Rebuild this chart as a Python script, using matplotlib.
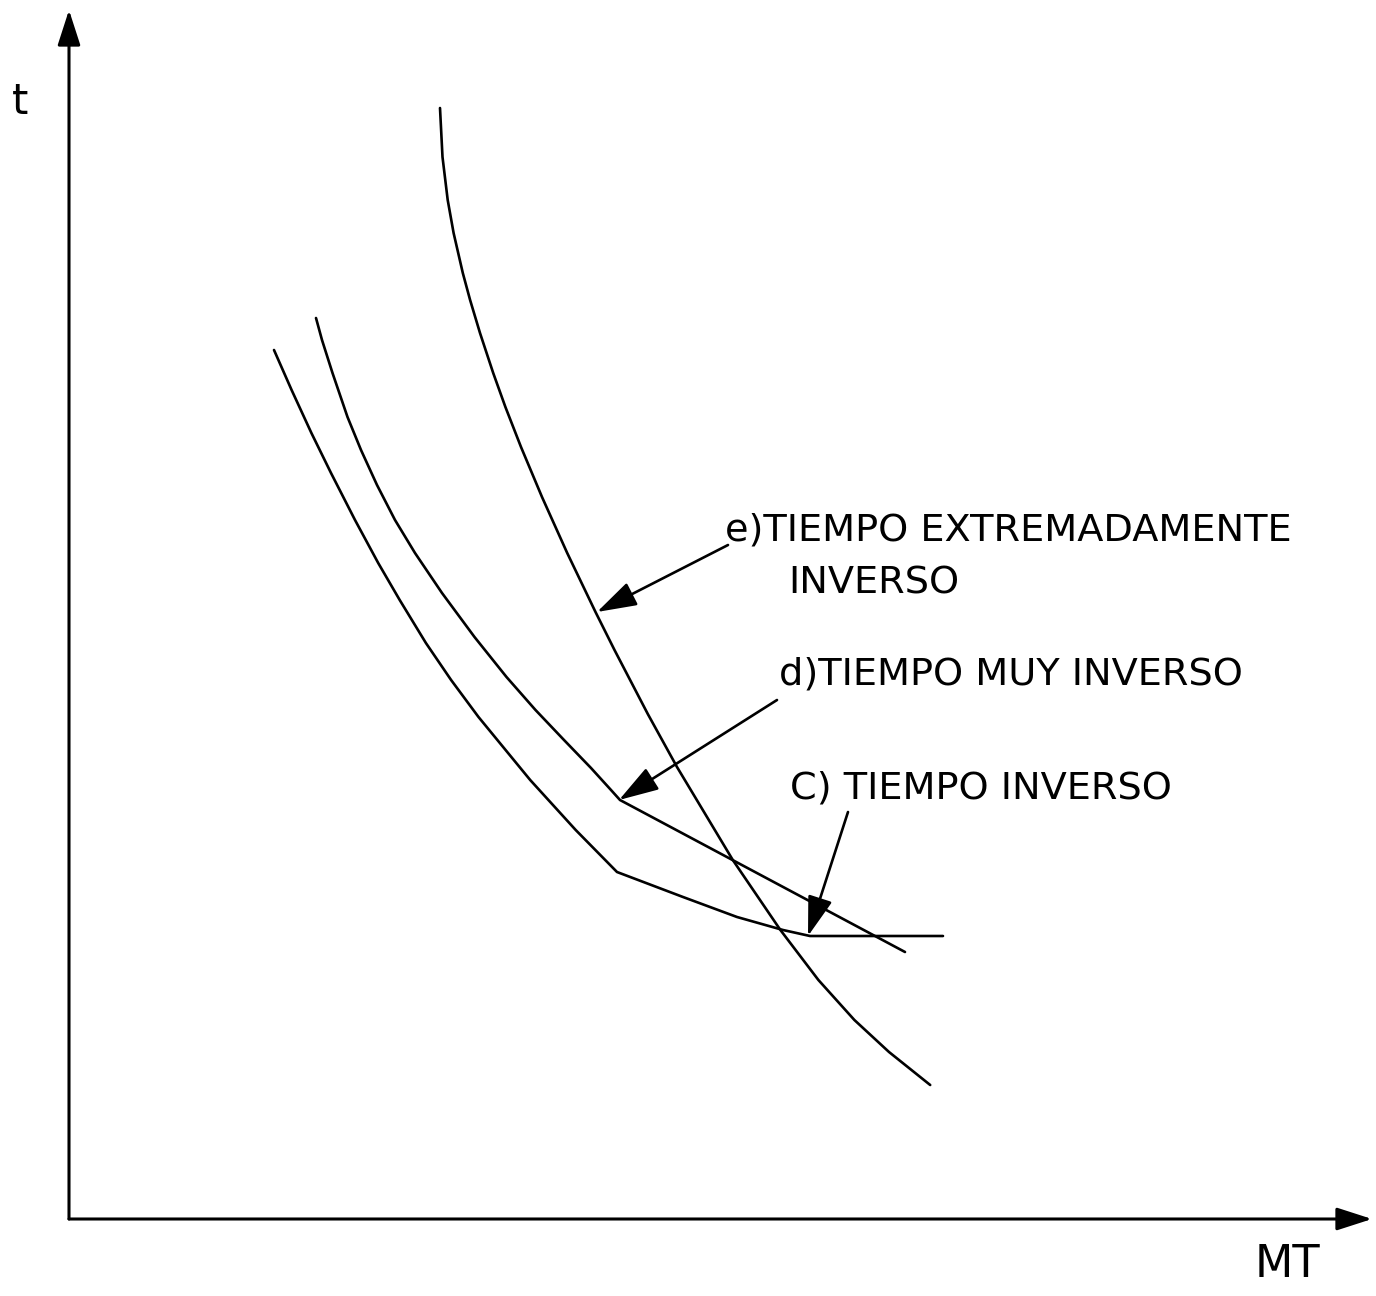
import matplotlib.pyplot as plt

# curve points (MT, t) in arbitrary units
# e) extremely inverse
mt_ext = [37.1, 37.35, 37.87, 38.46, 39.38, 40.11, 41.1, 42.42, 43.64, 45.2, 47.3, 49.82, 52.65,
          54.55, 57.88, 60.8, 66.38, 71.14, 74.94, 78.54, 82.0, 86.12]
t_ext = [111.1, 106.2, 101.9, 98.6, 94.6, 91.9, 88.6, 84.6, 81.2, 77.2, 72.2, 66.6, 60.7,
         56.9, 50.5, 45.2, 35.9, 28.9, 23.9, 19.9, 16.7, 13.4]

# d) very inverse
mt_muy = [24.7, 25.3, 26.35, 27.85, 29.2, 30.8, 32.6, 34.6, 37.3, 40.55, 43.75, 46.65, 49.5,
          52.2, 54.2, 55.1, 83.6]
t_muy = [90.1, 87.9, 84.6, 80.2, 76.9, 73.4, 69.9, 66.6, 62.6, 58.2, 54.2, 50.9, 47.9,
         45.1, 42.9, 41.9, 26.7]

# c) inverse
mt_inv = [20.5, 22.26, 24.24, 26.2, 28.6, 30.92, 33.07, 35.69, 38.21, 40.95, 46.12, 50.67, 54.8,
          61.4, 66.8, 71.4, 74.1, 87.4]
t_inv = [86.9, 82.9, 78.6, 74.6, 69.9, 65.6, 61.9, 57.6, 53.9, 50.2, 43.9, 38.9, 34.7,
         32.2, 30.2, 28.9, 28.3, 28.3]

# labels: (text, text position, arrow tail, arrow tip)
labels = [
    ("e)TIEMPO EXTREMADAMENTE", (65.6, 70.6), (65.9, 67.4), (52.8, 60.7)),
    ("d)TIEMPO MUY INVERSO", (71.0, 56.3), (70.8, 51.9), (55.0, 41.9)),
    ("C) TIEMPO INVERSO", (72.1, 44.8), (77.9, 40.7), (73.9, 28.3)),
]

plt.rcParams['font.family'] = ['DejaVu Sans']
fig = plt.figure(figsize=(13.76, 12.96), dpi=100)
ax = fig.add_axes([0, 0, 1, 1])
ax.set_xlim(-6.9, 130.7)
ax.set_ylim(-7.7, 121.9)
ax.axis('off')

lw = 1.9
for mt, t in [(mt_ext, t_ext), (mt_muy, t_muy), (mt_inv, t_inv)]:
    ax.plot(mt, t, color='black', lw=lw, solid_joinstyle='round', solid_capstyle='round')

# axes with arrow heads
axprops = dict(arrowstyle='-|>,head_length=1.55,head_width=0.5', color='black', lw=2.2,
               shrinkA=0, shrinkB=0, mutation_scale=14)
ax.annotate('', xy=(0, 120.9), xytext=(0, 0), arrowprops=axprops)
ax.annotate('', xy=(130.3, 0), xytext=(0, 0), arrowprops=axprops)

ax.text(-4.9, 111.7, 't', fontsize=30, ha='center', va='center')
ax.text(118.6, -2.4, 'MT', fontsize=32, ha='left', va='top')

lblprops = dict(arrowstyle='-|>,head_length=1.75,head_width=0.55', color='black', lw=lw,
                shrinkA=0, shrinkB=0, mutation_scale=14)
for txt, pos, tail, tip in labels:
    ax.text(pos[0], pos[1], txt, fontsize=27.5, ha='left', va='top')
    ax.annotate('', xy=tip, xytext=tail, arrowprops=lblprops)
ax.text(71.9, 65.4, 'INVERSO', fontsize=27.5, ha='left', va='top')

fig.savefig('out.png', dpi=100, facecolor='white')
